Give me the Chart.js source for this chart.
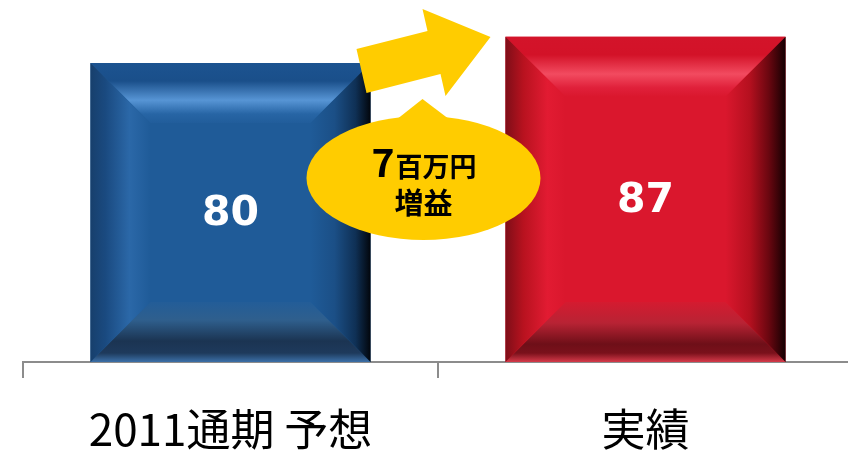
<!DOCTYPE html>
<html><head><meta charset="utf-8">
<script src="https://cdn.jsdelivr.net/npm/chart.js@4"></script>
<style>
html,body{margin:0;padding:0;background:#fff;overflow:hidden;}
#wrap{position:relative;width:860px;height:454px;}
</style></head><body>
<div id="wrap"><canvas id="c" width="860" height="454"></canvas></div>
<script>
// ---- data ----
const categories = ['2011通期 予想', '実績'];
const values = [80, 87];
const valueLabels = ['80', '87'];
const noteNumber = '7';
const noteUnit = '百万円';
const noteWord = '増益';

// ---- styles ----
const barColors = ['#1F5B98', '#DA172D'];
const bevelPalettes = [
  { // blue
    top: [[0,'#1C5390'],[0.3,'#1A4F8A'],[0.62,'#5795D5'],[0.85,'#2765A5'],[1,'#215D9B']],
    left: [[0,'#173F6C'],[0.25,'#1A4A80'],[0.65,'#2B68A8'],[1,'#1F5B98']],
    right: [[0,'#1F5B98'],[0.4,'#1B4F86'],[0.75,'#0F3055'],[1,'#02060C']],
    bottom: [[0,'#235D98'],[0.3,'#2F5F8D'],[0.65,'#1B3452'],[0.85,'#1E3A5C'],[1,'#3C70A8']]
  },
  { // red
    top: [[0,'#D3142A'],[0.3,'#D31228'],[0.62,'#F24B60'],[0.85,'#E0203A'],[1,'#DA172D']],
    left: [[0,'#7E0E18'],[0.3,'#B8121F'],[0.7,'#E21B32'],[1,'#DA172D']],
    right: [[0,'#DA172D'],[0.4,'#B5101F'],[0.72,'#6A0710'],[1,'#140002']],
    bottom: [[0,'#D41B30'],[0.35,'#B82334'],[0.7,'#6E0F18'],[0.85,'#7A111B'],[1,'#D63A4A']]
  }
];
const BEVEL = 60;
const yellow = '#FFCC00';

function grad(ctx, x0, y0, x1, y1, stops) {
  const g = ctx.createLinearGradient(x0, y0, x1, y1);
  stops.forEach(s => g.addColorStop(s[0], s[1]));
  return g;
}
function poly(ctx, pts, fill) {
  ctx.beginPath();
  ctx.moveTo(pts[0][0], pts[0][1]);
  for (let i = 1; i < pts.length; i++) ctx.lineTo(pts[i][0], pts[i][1]);
  ctx.closePath();
  ctx.fillStyle = fill;
  ctx.fill();
}

const bevelPlugin = {
  id: 'bevel',
  afterDatasetsDraw(chart) {
    const ctx = chart.ctx;
    const meta = chart.getDatasetMeta(0);
    meta.data.forEach((el, i) => {
      const p = bevelPalettes[i];
      const l = el.x - el.width / 2, r = el.x + el.width / 2;
      const t = el.y, b = el.base, v = BEVEL;
      ctx.save();
      poly(ctx, [[l,t],[r,t],[r-v,t+v],[l+v,t+v]], grad(ctx, 0, t, 0, t+v, p.top));
      poly(ctx, [[l,b],[r,b],[r-v,b-v],[l+v,b-v]], grad(ctx, 0, b-v, 0, b, p.bottom));
      poly(ctx, [[l,t],[l+v,t+v],[l+v,b-v],[l,b]], grad(ctx, l, 0, l+v, 0, p.left));
      poly(ctx, [[r,t],[r-v,t+v],[r-v,b-v],[r,b]], grad(ctx, r-v, 0, r, 0, p.right));
      // value label
      ctx.fillStyle = '#FFFFFF';
      ctx.font = 'bold 41px "DejaVu Sans"';
      ctx.textAlign = 'center';
      ctx.textBaseline = 'middle';
      ctx.fillText(valueLabels[i], el.x, (t + b) / 2 + 2);
      ctx.restore();
    });
  }
};

const calloutPlugin = {
  id: 'callout',
  afterDraw(chart) {
    const ctx = chart.ctx;
    const meta = chart.getDatasetMeta(0);
    const a = meta.data[0], c = meta.data[1];
    const gx = ((a.x + a.width / 2) + (c.x - c.width / 2)) / 2; // gap middle
    const y0 = chart.chartArea.top - 25.6; // canvas top reference
    ctx.save();
    // arrow
    const arrow = [[-81.5,49],[-10.5,31],[-15.5,9],[52.5,37],[7.5,96],[2.5,74],[-71.5,93]];
    poly(ctx, arrow.map(p => [gx + p[0], y0 + p[1]]), yellow);
    // callout ellipse + pointer
    const ex = gx - 14.5, ey = y0 + 178;
    ctx.beginPath();
    ctx.ellipse(ex, ey, 117, 62, 0, 0, Math.PI * 2);
    ctx.fillStyle = yellow;
    ctx.fill();
    poly(ctx, [[ex - 25, ey - 60], [ex - 1, ey - 79], [ex + 24, ey - 60]], yellow);
    // text
    ctx.fillStyle = '#000';
    ctx.textBaseline = 'alphabetic';
    ctx.textAlign = 'left';
    ctx.font = 'bold 39px "Noto Sans CJK JP"';
    const w7 = ctx.measureText(noteNumber).width;
    ctx.font = 'bold 27px "Noto Sans CJK JP"';
    const wu = ctx.measureText(noteUnit).width;
    const sx = ex - (w7 + wu) / 2;
    ctx.font = 'bold 39px "Noto Sans CJK JP"';
    ctx.fillText(noteNumber, sx, ey - 1);
    ctx.font = 'bold 27px "Noto Sans CJK JP"';
    ctx.fillText(noteUnit, sx + w7 + 1, ey - 1);
    ctx.textAlign = 'center';
    ctx.font = 'bold 29px "Noto Sans CJK JP"';
    ctx.fillText(noteWord, ex, ey + 36);
    ctx.restore();
  }
};

new Chart(document.getElementById('c'), {
  type: 'bar',
  data: {
    labels: categories,
    datasets: [{
      data: values,
      backgroundColor: barColors,
      borderWidth: 0,
      barPercentage: 0.675,
      categoryPercentage: 1
    }]
  },
  options: {
    responsive: false,
    animation: false,
    events: [],
    layout: { padding: { top: 25.6, left: 23, right: 7, bottom: 0 } },
    plugins: { legend: { display: false }, tooltip: { enabled: false } },
    scales: {
      x: {
        offset: true,
        grid: { display: true, drawOnChartArea: false, drawTicks: true, tickLength: 16, color: '#8C8C8C', lineWidth: 2, offset: true },
        border: { display: true, color: '#8C8C8C', width: 2 },
        ticks: { color: '#000', padding: 29, maxRotation: 0, minRotation: 0, font: { family: '"Noto Sans CJK JP"', size: 44, lineHeight: 1 } },
        afterFit(scale) { scale.height = 92; }
      },
      y: { display: false, min: 0, max: 90 }
    }
  },
  plugins: [bevelPlugin, calloutPlugin]
});
</script>
</body></html>
